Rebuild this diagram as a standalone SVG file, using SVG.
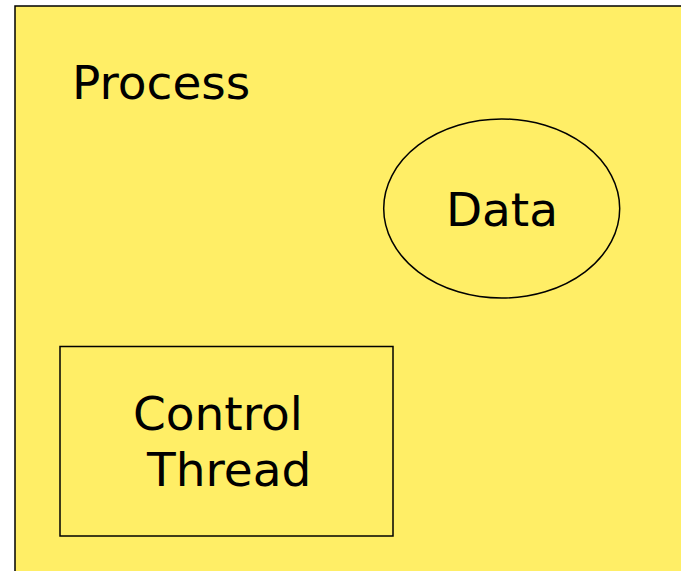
<svg xmlns="http://www.w3.org/2000/svg" width="681" height="571" viewBox="0 0 681 571">
<style>
.t{font-family:"DejaVu Sans",sans-serif;font-size:47px;fill:#000}
.s{fill:#ffee66;stroke:#000;stroke-width:1.5}
</style>
<rect width="681" height="571" fill="#fff"/>
<g id="process">
<rect class="s" x="15" y="6" width="700" height="600"/>
<text class="t" x="72" y="99">Process</text>
</g>
<g id="data">
<ellipse class="s" cx="501.7" cy="208.5" rx="118" ry="89.5"/>
<text class="t" x="502" y="226" text-anchor="middle">Data</text>
</g>
<g id="control-thread">
<rect class="s" x="60" y="346.5" width="333" height="189.5"/>
<text class="t" x="133" y="430">Control</text>
<text class="t" x="147" y="486">Thread</text>
</g>
<g id="connectors"/>
</svg>
